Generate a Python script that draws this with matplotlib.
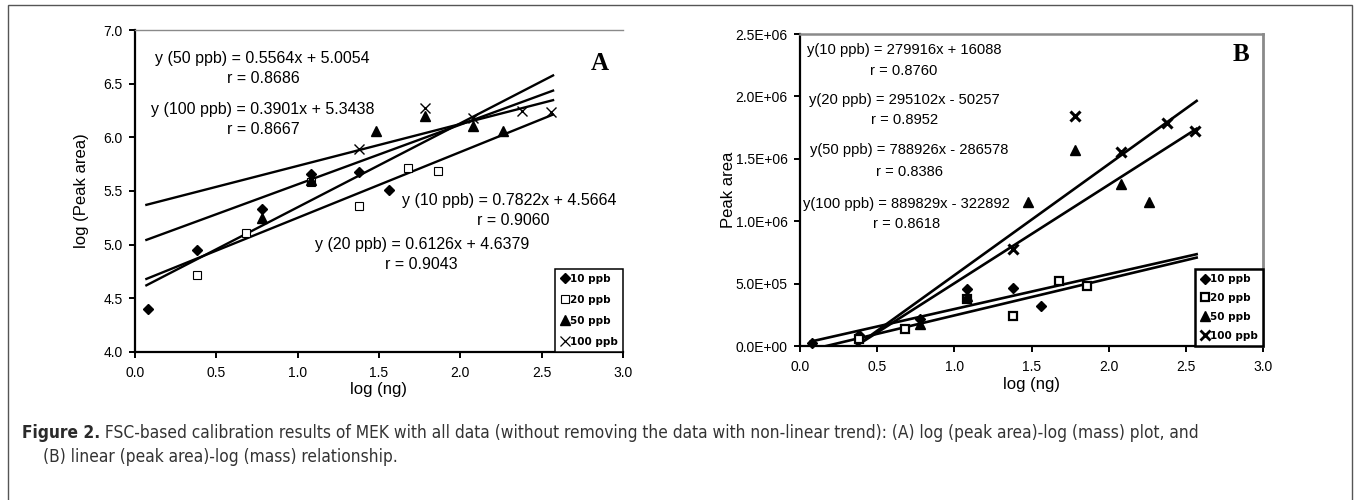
import matplotlib.pyplot as plt
from matplotlib.patches import Rectangle
from matplotlib.lines import Line2D

# ---- data ----
series = ["10 ppb", "20 ppb", "50 ppb", "100 ppb"]

x10 = [0.08, 0.38, 0.78, 1.08, 1.38, 1.56]
x20 = [0.38, 0.68, 1.08, 1.38, 1.68, 1.86]
x50 = [0.78, 1.08, 1.48, 1.78, 2.08, 2.26]
x100 = [1.38, 1.78, 2.08, 2.38, 2.56]

# panel A: log (peak area)
a10 = [4.40, 4.95, 5.33, 5.66, 5.68, 5.51]
a20 = [4.72, 5.11, 5.58, 5.36, 5.71, 5.69]
a50 = [5.25, 5.60, 6.06, 6.20, 6.11, 6.06]
a100 = [5.89, 6.27, 6.18, 6.25, 6.24]

# panel B: peak area
b10 = [25000, 89000, 214000, 457000, 465000, 323000]
b20 = [54000, 134000, 380000, 237000, 519000, 484000]
b50 = [175000, 400000, 1156000, 1567000, 1296000, 1156000]
b100 = [780000, 1840000, 1554000, 1788000, 1720000]

# trend lines (slope, intercept) as printed on the chart
slopes_a = [0.7822, 0.6126, 0.5564, 0.3901]
inters_a = [4.5664, 4.6379, 5.0054, 5.3438]
slopes_b = [279916, 295102, 788926, 889829]
inters_b = [16088, -50257, -286578, -322892]
line_x = [0.07, 2.57]

eq_a = ["y (50 ppb) = 0.5564x + 5.0054", "r = 0.8686",
        "y (100 ppb) = 0.3901x + 5.3438", "r = 0.8667",
        "y (10 ppb) = 0.7822x + 4.5664", "r = 0.9060",
        "y (20 ppb) = 0.6126x + 4.6379", "r = 0.9043"]
eq_b = ["y(10 ppb) = 279916x + 16088", "r = 0.8760",
        "y(20 ppb) = 295102x - 50257", "r = 0.8952",
        "y(50 ppb) = 788926x - 286578", "r = 0.8386",
        "y(100 ppb) = 889829x - 322892", "r = 0.8618"]

xticks = [0.0, 0.5, 1.0, 1.5, 2.0, 2.5, 3.0]
yticks_a = [4.0, 4.5, 5.0, 5.5, 6.0, 6.5, 7.0]
yticks_b = [0, 500000, 1000000, 1500000, 2000000, 2500000]
ytick_labels_b = ["0.0E+00", "5.0E+05", "1.0E+06", "1.5E+06", "2.0E+06", "2.5E+06"]

caption_bold = "Figure 2."
caption_1 = (" FSC-based calibration results of MEK with all data (without removing the data "
             "with non-linear trend): (A) log (peak area)-log (mass) plot, and")
caption_2 = "(B) linear (peak area)-log (mass) relationship."

plt.rcParams['font.family'] = ['Liberation Sans', 'DejaVu Sans']
TICK_FS = 10
LABEL_FS = 12
NARROW = ['DejaVu Sans']


def style_axes(ax):
    ax.spines['left'].set_linewidth(1.6)
    ax.spines['bottom'].set_linewidth(1.6)
    ax.spines['top'].set_color('#8a8a8a')
    ax.spines['top'].set_linewidth(1.0)
    ax.tick_params(direction='out', length=4, width=1.4, labelsize=TICK_FS)
    ax.tick_params(axis='x', pad=6)
    ax.tick_params(axis='y', pad=5)
    ax.set_xticks(xticks)
    ax.set_xticklabels([f"{t:.1f}" for t in xticks])
    ax.set_xlim(0, 3)


def draw_points(ax, ys, thick=False):
    ms = 6
    ew = 1.6 if thick else 0.8
    ax.plot(x10, ys[0], 'D', color='black', ms=ms - 0.5, ls='none', clip_on=False)
    ax.plot(x20, ys[1], 's', mfc='white', mec='black', mew=ew, ms=ms, ls='none')
    ax.plot(x50, ys[2], '^', color='black', ms=ms + 1.5, ls='none')
    ax.plot(x100, ys[3], 'x', color='black', mew=2.2 if thick else 1.0, ms=ms + 1.5, ls='none')


def draw_legend(ax, thick=False, spacing=0.9):
    ew = 1.6 if thick else 0.8
    handles = [
        Line2D([], [], marker='D', color='black', ls='none', ms=5),
        Line2D([], [], marker='s', mfc='white', mec='black', mew=ew, ls='none', ms=5.5),
        Line2D([], [], marker='^', color='black', ls='none', ms=7),
        Line2D([], [], marker='x', color='black', ls='none', ms=7, mew=2.0 if thick else 0.9),
    ]
    leg = ax.legend(handles, series, loc='lower right', bbox_to_anchor=(1.0, 0.0),
                    borderaxespad=0, frameon=True, fancybox=False, framealpha=1,
                    edgecolor='black', handlelength=0.8, handletextpad=0.1,
                    labelspacing=spacing, borderpad=0.5,
                    prop={'family': NARROW, 'weight': 'bold', 'size': 7.5})
    leg.get_frame().set_linewidth(1.8 if thick else 1.1)
    leg.set_zorder(5)


fig = plt.figure(figsize=(13.54, 5.0), dpi=100)

# ---- panel A ----
axA = fig.add_axes([135 / 1354, 1 - 352 / 500, 488 / 1354, 322 / 500])
style_axes(axA)
axA.spines['right'].set_visible(False)
axA.set_ylim(4.0, 7.0)
axA.set_yticks(yticks_a)
axA.set_yticklabels([f"{t:.1f}" for t in yticks_a])
for m, c in zip(slopes_a, inters_a):
    axA.plot(line_x, [m * line_x[0] + c, m * line_x[1] + c], color='black', lw=1.7)
draw_points(axA, [a10, a20, a50, a100])
draw_legend(axA, spacing=1.05)
axA.set_xlabel("log (ng)", fontsize=LABEL_FS)
axA.xaxis.set_label_coords(0.5, -0.092)
axA.set_ylabel("log (Peak area)", fontsize=LABEL_FS)
axA.yaxis.set_label_coords(-0.094, 0.5)

pos_a = [(0.785, 6.735, 'center'), (0.787, 6.548, 'center'),
         (0.787, 6.259, 'center'), (0.787, 6.072, 'center'),
         (1.64, 5.411, 'left'), (2.325, 5.224, 'center'),
         (1.763, 5.0, 'center'), (1.763, 4.813, 'center')]
for txt, (x, y, ha) in zip(eq_a, pos_a):
    axA.text(x, y, txt, ha=ha, va='center', fontsize=11.5, clip_on=False)
axA.text(2.86, 6.69, "A", ha='center', va='center', fontsize=18, fontweight='bold',
         family=['Liberation Serif', 'DejaVu Serif'])

# ---- panel B ----
axB = fig.add_axes([800 / 1354, 1 - 346 / 500, 463 / 1354, 312 / 500])
style_axes(axB)
axB.spines['right'].set_color('#8a8a8a')
axB.spines['right'].set_linewidth(2.0)
axB.spines['top'].set_linewidth(1.8)
axB.set_ylim(0, 2500000)
axB.set_yticks(yticks_b)
axB.set_yticklabels(ytick_labels_b)
for m, c in zip(slopes_b, inters_b):
    axB.plot(line_x, [m * line_x[0] + c, m * line_x[1] + c], color='black', lw=1.9)
draw_points(axB, [b10, b20, b50, b100], thick=True)
draw_legend(axB, thick=True, spacing=0.85)
axB.set_xlabel("log (ng)", fontsize=LABEL_FS)
axB.xaxis.set_label_coords(0.5, -0.1)
axB.set_ylabel("Peak area", fontsize=LABEL_FS)
axB.yaxis.set_label_coords(-0.138, 0.5)

pos_b = [(0.675, 2374000), (0.675, 2204000), (0.675, 1970000), (0.675, 1809000),
         (0.71, 1567000), (0.71, 1398000), (0.69, 1137000), (0.69, 976000)]
for txt, (x, y) in zip(eq_b, pos_b):
    axB.text(x, y, txt, ha='center', va='center', fontsize=10.6, clip_on=False)
axB.text(2.856, 2339000, "B", ha='center', va='center', fontsize=18, fontweight='bold',
         family=['Liberation Serif', 'DejaVu Serif'])

# ---- caption and frame ----
fig.add_artist(Rectangle((8 / 1354, -0.05), 1344 / 1354, 1.04, transform=fig.transFigure,
                         fill=False, edgecolor='#555555', lw=1.0))
cap_fs = 11.5
cap_kw = dict(family=NARROW, stretch='condensed', va='center')
t1 = fig.text(22 / 1354, 1 - 433 / 500, caption_bold, fontsize=cap_fs, fontweight='bold',
              color='#2a2a2a', **cap_kw)
fig.canvas.draw()
bb = t1.get_window_extent()
t2 = fig.text(bb.x1 / 1354, 1 - 433 / 500, caption_1, fontsize=cap_fs,
              color='#333333', **cap_kw)
fig.canvas.draw()
# fit caption line 1 to the width it takes in the reference (x 22 -> 1202 px)
scale = (1202 - 22) / (t2.get_window_extent().x1 - 22)
cap_fs *= scale
t1.set_fontsize(cap_fs)
fig.canvas.draw()
t2.set_fontsize(cap_fs)
t2.set_x(t1.get_window_extent().x1 / 1354)
fig.text(43 / 1354, 1 - 457 / 500, caption_2, fontsize=cap_fs, color='#333333', **cap_kw)

fig.savefig("out.png", dpi=100)
